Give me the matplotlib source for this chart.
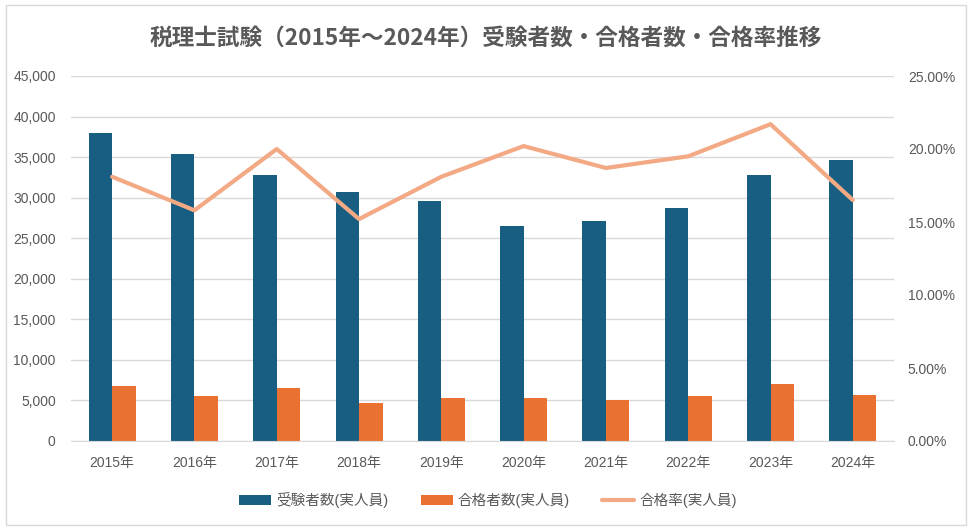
import numpy as np
import matplotlib.pyplot as plt
from matplotlib.patches import Rectangle
from matplotlib.ticker import FuncFormatter

plt.rcParams["font.family"] = ["Liberation Sans", "Noto Sans CJK JP"]

YEARS = ["2015年", "2016年", "2017年", "2018年", "2019年",
         "2020年", "2021年", "2022年", "2023年", "2024年"]
EXAMINEES = [38000, 35400, 32800, 30700, 29600, 26500, 27100, 28700, 32800, 34700]
PASSERS = [6800, 5550, 6550, 4700, 5300, 5300, 5050, 5550, 7050, 5650]
PASS_RATE = [18.1, 15.8, 20.0, 15.2, 18.1, 20.2, 18.7, 19.5, 21.7, 16.5]

TITLE = "税理士試験（2015年～2024年）受験者数・合格者数・合格率推移"
LABELS = ["受験者数(実人員)", "合格者数(実人員)", "合格率(実人員)"]

BLUE = "#175E82"
ORANGE = "#E97132"
SALMON = "#F2A984"
TEXT = "#595959"
GRID = "#D9D9D9"

fig = plt.figure(figsize=(9.72, 5.31), dpi=100)
fig.patches.append(Rectangle((0.006, 0.011), 0.988, 0.98, transform=fig.transFigure,
                             fill=False, edgecolor=GRID, linewidth=1))

W, H = 972, 531
ax = fig.add_axes([71 / W, 1 - 441 / H, (894 - 71) / W, (441 - 76) / H])
ax2 = ax.twinx()

x = np.arange(len(YEARS))
bw = 0.285
b1 = ax.bar(x - bw / 2, EXAMINEES, width=bw, color=BLUE, zorder=2)
b2 = ax.bar(x + bw / 2, PASSERS, width=bw, color=ORANGE, zorder=2)
ln, = ax2.plot(x, PASS_RATE, color=SALMON, linewidth=3.0, solid_capstyle="round")

ax.set_xlim(-0.5, len(YEARS) - 0.5)
ax.set_ylim(0, 45000)
ax.set_yticks(np.arange(0, 45001, 5000))
ax.yaxis.set_major_formatter(FuncFormatter(lambda v, p: f"{int(v):,}"))
ax2.set_ylim(0, 25)
ax2.set_yticks(np.arange(0, 25.01, 5))
ax2.yaxis.set_major_formatter(FuncFormatter(lambda v, p: f"{v:.2f}%"))

ax.set_xticks(x)
ax.set_xticklabels(YEARS)
ax.grid(axis="y", color=GRID, linewidth=1, zorder=0)
ax.set_axisbelow(True)

for a in (ax, ax2):
    for s in a.spines.values():
        s.set_visible(False)
    a.tick_params(length=0, colors=TEXT, labelsize=10)
ax.spines["bottom"].set_visible(True)
ax.spines["bottom"].set_color(GRID)
ax.tick_params(axis="y", pad=11)
ax.tick_params(axis="x", pad=11)
ax2.tick_params(axis="y", pad=10)

fig.text(0.5, 1 - 38 / H, TITLE, ha="center", va="center", fontsize=16.3,
         fontweight="bold", color=TEXT, family=["Noto Sans CJK JP"])

leg = fig.legend([b1, b2, ln], LABELS, loc="center", bbox_to_anchor=(0.502, 1 - 500 / H),
                 ncol=3, frameon=False, fontsize=10.5, handlelength=2.2, columnspacing=2.2,
                 handletextpad=0.35)
for t in leg.get_texts():
    t.set_color(TEXT)

fig.savefig("out.png", dpi=100)
